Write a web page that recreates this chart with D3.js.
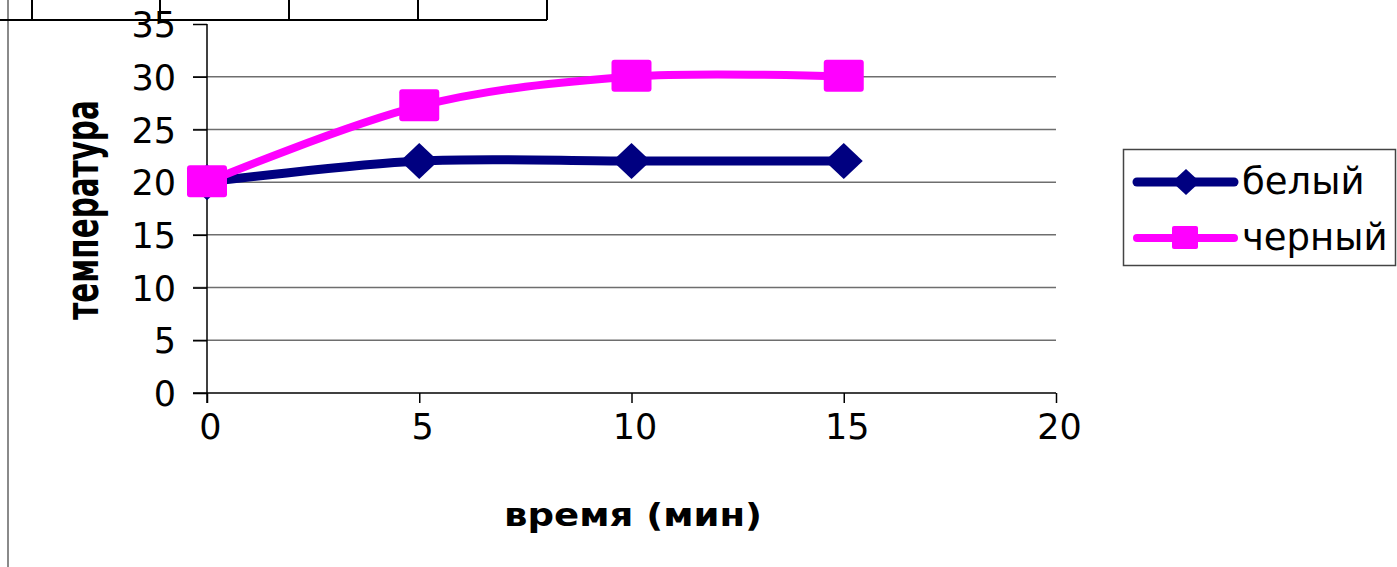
<!DOCTYPE html>
<html>
<head>
<meta charset="utf-8">
<script src="https://cdn.jsdelivr.net/npm/d3@7"></script>
<style>
  html, body { margin: 0; padding: 0; background: #fff; }
  svg { display: block; }
</style>
</head>
<body>
<svg id="chart" width="1397" height="567"></svg>
<script>
// Time points (minutes) and temperatures for the two surfaces
const times = [0, 5, 10, 15];
const whiteTemps = [20, 22, 22, 22];
const blackTemps = [20, 27.2, 30, 30];
const seriesNames = ["белый", "черный"];
const seriesColors = ["#000080", "#ff00ff"];
const xTicks = [0, 5, 10, 15, 20];
const yTicks = [0, 5, 10, 15, 20, 25, 30, 35];
const xTitle = "время (мин)";
const yTitle = "температура";

const svg = d3.select("#chart");
const W = 1397, H = 567;

const x = d3.scaleLinear().domain([0, 20]).range([207, 1056]);
const y = d3.scaleLinear().domain([0, 35]).range([393, 24]);

// spreadsheet frame behind the chart
svg.append("line").attr("x1", 8).attr("x2", 8).attr("y1", 0).attr("y2", H)
  .attr("stroke", "#8a8a8a").attr("stroke-width", 2);

// horizontal gridlines (skip the top value, which only gets a tick)
svg.append("g").selectAll("line")
  .data(yTicks.filter(d => d > 0 && d < 35))
  .join("line")
  .attr("x1", 193).attr("x2", x(20))
  .attr("y1", d => y(d)).attr("y2", d => y(d))
  .attr("stroke", "#6e6e6e").attr("stroke-width", 1.5);

// y axis
const yAxis = svg.append("g")
  .attr("transform", `translate(${x(0)},0)`)
  .call(d3.axisLeft(y).tickValues(yTicks).tickSize(14).tickPadding(17)
    .tickFormat(d3.format("d")));
yAxis.select(".domain").attr("d", `M0,${y(35)}V${y(0) + 10}`)
  .attr("stroke", "#000").attr("stroke-width", 1.5);
yAxis.selectAll(".tick line").attr("stroke", "#000").attr("stroke-width", 1.5);
yAxis.selectAll(".tick text")
  .attr("font-family", "'DejaVu Sans', Verdana, sans-serif")
  .attr("font-size", 35).attr("fill", "#000").attr("dy", "0.36em");

// x axis
const xAxis = svg.append("g")
  .attr("transform", `translate(0,${y(0)})`)
  .call(d3.axisBottom(x).tickValues(xTicks).tickSize(10).tickPadding(32)
    .tickFormat(d3.format("d")));
xAxis.select(".domain").attr("d", `M193,0H${x(20)}`)
  .attr("stroke", "#000").attr("stroke-width", 1.5);
xAxis.selectAll(".tick line").attr("stroke", "#000").attr("stroke-width", 1.5);
xAxis.selectAll(".tick text")
  .attr("font-family", "'DejaVu Sans', Verdana, sans-serif")
  .attr("font-size", 35).attr("fill", "#000").attr("dx", 3).attr("dy", "0.1em");

// axis titles
svg.append("text")
  .attr("x", 633).attr("y", 526)
  .attr("text-anchor", "middle")
  .attr("font-family", "'DejaVu Sans', Verdana, sans-serif")
  .attr("font-weight", "bold").attr("font-size", 32)
  .attr("textLength", 258).attr("lengthAdjust", "spacingAndGlyphs")
  .text(xTitle);

// vertical title, squeezed along its length
svg.append("text")
  .attr("transform", "translate(98,210) rotate(-90) scale(0.64,1)")
  .attr("text-anchor", "middle")
  .attr("font-family", "'DejaVu Sans', Verdana, sans-serif")
  .attr("font-weight", "bold").attr("font-size", 46)
  .text(yTitle);

// smoothed lines
const line = d3.line()
  .x(d => x(d[0])).y(d => y(d[1]))
  .curve(d3.curveCardinal.tension(0));

const whitePts = times.map((t, i) => [t, whiteTemps[i]]);
const blackPts = times.map((t, i) => [t, blackTemps[i]]);

svg.append("path").attr("d", line(whitePts))
  .attr("fill", "none").attr("stroke", seriesColors[0])
  .attr("stroke-width", 9).attr("stroke-linejoin", "round");

svg.append("path").attr("d", line(blackPts))
  .attr("fill", "none").attr("stroke", seriesColors[1])
  .attr("stroke-width", 8).attr("stroke-linejoin", "round");

// markers
const diamond = (cx, cy, hw, hh) =>
  `M${cx},${cy - hh}L${cx + hw},${cy}L${cx},${cy + hh}L${cx - hw},${cy}Z`;

svg.append("g").selectAll("path")
  .data(whitePts)
  .join("path")
  .attr("d", d => diamond(x(d[0]), y(d[1]), 19, 18))
  .attr("fill", seriesColors[0]);

svg.append("g").selectAll("rect")
  .data(blackPts)
  .join("rect")
  .attr("x", d => x(d[0]) - 20).attr("y", d => y(d[1]) - 17)
  .attr("width", 40).attr("height", 32).attr("rx", 3)
  .attr("fill", seriesColors[1]);

// legend
const lg = svg.append("g");
lg.append("rect").attr("x", 1123.5).attr("y", 149.5)
  .attr("width", 272).attr("height", 116)
  .attr("fill", "none").attr("stroke", "#444").attr("stroke-width", 1.5);

const rows = [182, 238];
seriesNames.forEach((name, i) => {
  const cy = rows[i];
  lg.append("line").attr("x1", 1137).attr("x2", 1234)
    .attr("y1", cy).attr("y2", cy)
    .attr("stroke", seriesColors[i]).attr("stroke-width", i === 0 ? 9 : 8)
    .attr("stroke-linecap", "round");
  if (i === 0) {
    lg.append("path").attr("d", diamond(1186, cy, 14, 13)).attr("fill", seriesColors[i]);
  } else {
    lg.append("rect").attr("x", 1172).attr("y", cy - 12)
      .attr("width", 26).attr("height", 23).attr("rx", 2)
      .attr("fill", seriesColors[i]);
  }
  lg.append("text").attr("x", 1242).attr("y", cy + 12)
    .attr("font-family", "'DejaVu Sans', Verdana, sans-serif")
    .attr("font-size", 37).attr("fill", "#000")
    .text(name);
});

// spreadsheet grid row at the top, drawn over the chart
svg.append("line").attr("x1", 0).attr("x2", 547).attr("y1", 20).attr("y2", 20)
  .attr("stroke", "#000").attr("stroke-width", 2);
svg.append("g").selectAll("line")
  .data([32, 160, 289, 418, 547])
  .join("line")
  .attr("x1", d => d).attr("x2", d => d).attr("y1", 0).attr("y2", 20)
  .attr("stroke", "#000").attr("stroke-width", 2);
</script>
</body>
</html>
